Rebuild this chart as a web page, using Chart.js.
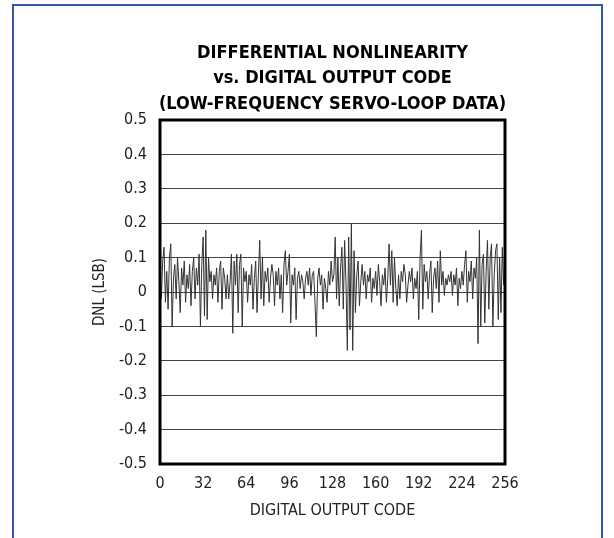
<!DOCTYPE html>
<html>
<head>
<meta charset="utf-8">
<script src="https://cdn.jsdelivr.net/npm/chart.js@4.4.0/dist/chart.umd.min.js"></script>
<style>
  body { margin: 0; background: #fff; }
  #wrap { width: 614px; height: 538px; }
</style>
</head>
<body>
<div id="wrap"><canvas id="dnlChart" width="614" height="538"></canvas></div>
<script>
// DNL (LSB) per digital output code (codes 0..255)
var dnlValues = [
  0.05, -0.02, 0.09, 0.13, -0.03, 0.06, -0.05, 0.10, 0.14, -0.10,
  0.04, 0.08, -0.02, 0.10, 0.03, -0.06, 0.07, 0.02, 0.09, -0.03,
  0.05, 0.01, 0.08, -0.04, 0.06, 0.10, -0.02, 0.07, 0.02, 0.11,
  -0.10, 0.08, 0.16, -0.07, 0.18, -0.08, 0.10, 0.03, 0.06, -0.02,
  0.05, 0.02, 0.07, -0.03, 0.06, 0.09, -0.05, 0.07, 0.04, -0.02,
  0.05, -0.02, 0.03, 0.11, -0.12, 0.09, 0.02, 0.11, -0.06, 0.08,
  0.11, -0.10, 0.07, 0.03, 0.06, -0.03, 0.05, 0.02, 0.08, -0.05,
  0.04, 0.09, -0.06, 0.05, 0.15, -0.02, 0.10, -0.04, 0.06, 0.03,
  0.07, -0.03, 0.04, 0.08, 0.05, -0.04, 0.06, 0.02, 0.07, -0.02,
  0.05, -0.06, 0.08, 0.12, 0.02, 0.06, 0.11, -0.09, 0.05, 0.02,
  0.07, -0.08, 0.04, 0.06, 0.01, 0.05, 0.03, -0.02, 0.04, 0.06,
  0.02, 0.07, -0.01, 0.05, 0.06, -0.03, -0.13, 0.04, 0.07, 0.02,
  0.05, -0.05, 0.04, 0.01, -0.03, 0.06, 0.02, 0.09, 0.03, 0.05,
  0.16, -0.02, 0.10, -0.04, 0.07, 0.13, -0.05, 0.15, 0.03, -0.17,
  0.16, -0.11, 0.20, -0.17, 0.12, -0.06, 0.05, 0.09, -0.04, 0.03,
  0.08, 0.02, 0.06, -0.02, 0.05, 0.03, 0.07, -0.03, 0.04, 0.01,
  0.06, -0.01, 0.08, 0.03, -0.04, 0.05, 0.02, 0.07, -0.03, 0.04,
  0.14, 0.02, 0.12, -0.03, 0.10, 0.01, -0.04, 0.05, -0.02, 0.06,
  0.03, 0.08, 0.05, -0.03, 0.02, 0.06, 0.03, 0.07, -0.02, 0.04,
  0.01, 0.06, -0.08, 0.10, 0.18, -0.05, 0.08, 0.03, 0.06, -0.02,
  0.05, 0.09, -0.06, 0.04, 0.07, 0.01, 0.09, -0.03, 0.12, 0.02,
  0.06, -0.01, 0.04, 0.02, 0.05, 0.03, 0.06, -0.01, 0.05, 0.02,
  0.07, -0.04, 0.04, 0.01, 0.06, 0.02, 0.08, 0.12, -0.03, 0.06,
  0.03, 0.09, -0.02, 0.07, 0.04, 0.10, -0.15, 0.18, -0.10, 0.08,
  0.11, -0.09, 0.06, 0.15, -0.05, 0.10, 0.14, -0.10, 0.05, 0.12,
  0.14, -0.08, 0.10, -0.06, 0.13, 0.02
];
var xTicks = [0, 32, 64, 96, 128, 160, 192, 224, 256];
var yTicks = [-0.5, -0.4, -0.3, -0.2, -0.1, 0, 0.1, 0.2, 0.3, 0.4, 0.5];
var titleLines = ["DIFFERENTIAL NONLINEARITY", "vs. DIGITAL OUTPUT CODE", "(LOW-FREQUENCY SERVO-LOOP DATA)"];

var narrow = "'DejaVu Sans Condensed', 'Liberation Sans Narrow', sans-serif";

var points = [];
for (var i = 0; i < dnlValues.length; i++) {
  points.push({ x: i, y: dnlValues[i] });
}

// blue page frame, title centred over the plot, thick black box round the plot
var framePlugin = {
  id: "frames",
  beforeDraw: function (chart) {
    var c = chart.ctx;
    c.save();
    c.strokeStyle = "#3558a6";
    c.lineWidth = 2;
    c.beginPath();
    c.moveTo(13, 538);
    c.lineTo(13, 5);
    c.lineTo(602, 5);
    c.lineTo(602, 538);
    c.stroke();
    c.restore();
  },
  afterDraw: function (chart) {
    var a = chart.chartArea;
    var c = chart.ctx;
    c.save();
    c.strokeStyle = "#000";
    c.lineWidth = 3;
    c.strokeRect(a.left, a.top, a.right - a.left, a.bottom - a.top);
    c.fillStyle = "#000";
    c.font = "bold 18px " + narrow;
    c.textAlign = "center";
    c.textBaseline = "middle";
    var cx = (a.left + a.right) / 2;
    for (var k = 0; k < titleLines.length; k++) {
      c.fillText(titleLines[k], cx, 53 + k * 25.5);
    }
    c.restore();
  }
};

var ctx = document.getElementById("dnlChart").getContext("2d");
var chart = new Chart(ctx, {
  type: "line",
  data: {
    datasets: [
      {
        label: "DNL",
        data: points,
        borderColor: "#333",
        borderWidth: 1,
        pointRadius: 0,
        tension: 0,
      },
    ],
  },
  options: {
    responsive: false,
    animation: false,
    layout: { padding: { left: 0, right: 109, top: 120, bottom: 0 } },
    plugins: {
      legend: { display: false },
      tooltip: { enabled: false },
      title: { display: false },
    },
    scales: {
      x: {
        type: "linear",
        min: 0,
        max: 256,
        afterFit: function (scale) { scale.height = 74; },
        afterBuildTicks: function (scale) {
          scale.ticks = xTicks.map(function (v) { return { value: v }; });
        },
        grid: { display: false, drawTicks: false },
        border: { display: false },
        ticks: {
          autoSkip: false,
          maxRotation: 0,
          padding: 10,
          color: "#222",
          font: { family: narrow, size: 16 },
        },
        title: {
          display: true,
          text: "DIGITAL OUTPUT CODE",
          color: "#222",
          font: { family: narrow, size: 16 },
          padding: { top: 0, bottom: 18 },
        },
      },
      y: {
        min: -0.5,
        max: 0.5,
        afterFit: function (scale) { scale.width = 160; },
        afterBuildTicks: function (scale) {
          scale.ticks = yTicks.map(function (v) { return { value: v }; });
        },
        grid: { color: "#444", lineWidth: 1, drawTicks: false },
        border: { display: false },
        ticks: {
          padding: 13,
          color: "#222",
          font: { family: narrow, size: 16 },
          callback: function (v) { return v === 0 ? "0" : Number(v).toFixed(1); },
        },
        title: {
          display: true,
          text: "DNL (LSB)",
          color: "#222",
          font: { family: narrow, size: 15 },
          padding: { top: 91, bottom: 0 },
        },
      },
    },
  },
  plugins: [framePlugin],
});
</script>
</body>
</html>
